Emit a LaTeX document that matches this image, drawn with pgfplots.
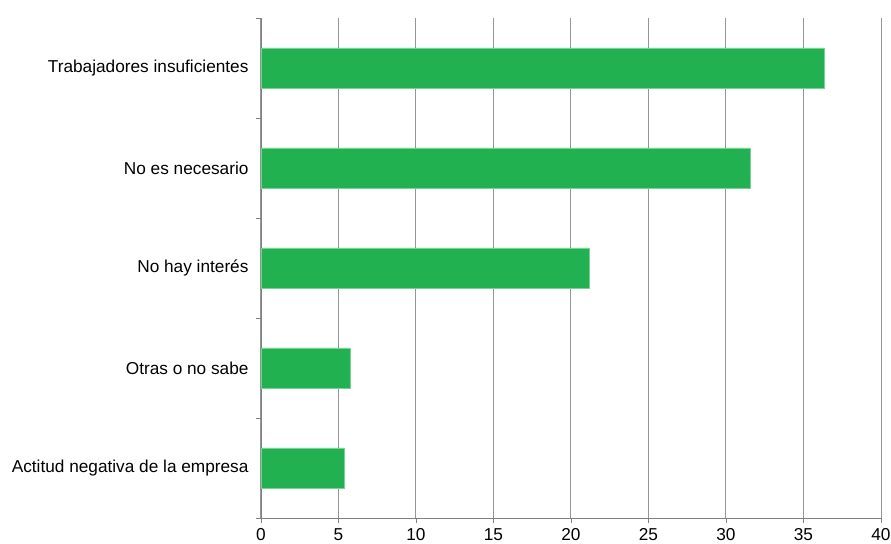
\documentclass[border=0pt]{standalone}
\usepackage{pgfplots}
\pgfplotsset{compat=1.18}
\usepackage{fontspec}
\setmainfont{Liberation Sans}
\definecolor{barg}{RGB}{34,177,81}
\definecolor{baredge}{RGB}{120,210,150}
\definecolor{gridg}{RGB}{150,150,150}
\definecolor{axg}{RGB}{128,128,128}
\begin{document}
\begin{tikzpicture}
\begin{axis}[
  at={(0,0)}, anchor=south west,
  scale only axis, width=620bp, height=500bp,
  xmin=0, xmax=40, ymin=0.5, ymax=5.5,
  axis x line*=bottom, axis y line*=left,
  axis line style={axg, line width=0.9bp, -},
  xtick={0,5,...,40},
  xmajorgrids, major grid style={gridg, line width=1bp},
  ytick={0.5,1.5,2.5,3.5,4.5,5.5},
  yticklabels={},
  extra y ticks={1,2,3,4,5},
  extra y tick labels={Actitud negativa de la empresa, Otras o no sabe, No hay interés, No es necesario, Trabajadores insuficientes},
  extra y tick style={tick style={draw=none}, yticklabel style={xshift=-4bp}},
  tick align=outside,
  major tick length=5bp,
  tick style={axg, line width=0.9bp},
  tick label style={font=\fontsize{17.3}{20}\selectfont, text=black},
  xticklabel style={yshift=-2bp},
  /pgf/number format/assume math mode=true,
  clip=false,
]
\addplot[xbar, bar width=40bp, fill=barg, draw=baredge, line width=0.6bp] coordinates {
  (5.35,1) (5.75,2) (21.15,3) (31.6,4) (36.35,5)
};
\end{axis}
\pgfresetboundingbox
\path (-261bp,-26bp) rectangle (630bp,518bp);
\end{tikzpicture}
\end{document}
